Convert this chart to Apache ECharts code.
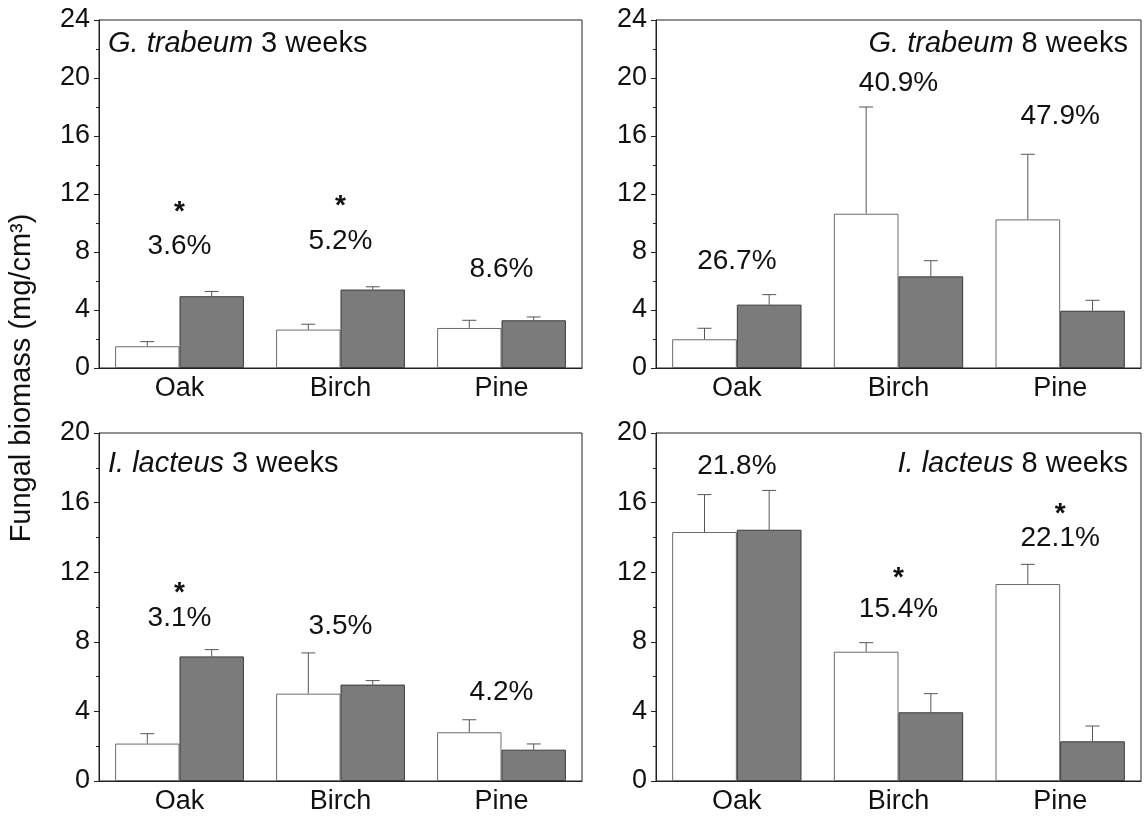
<!DOCTYPE html>
<html>
<head>
<meta charset="utf-8">
<title>Fungal biomass</title>
<script src="https://cdn.jsdelivr.net/npm/echarts@6/dist/echarts.min.js"></script>
<style>
  html, body { margin: 0; padding: 0; background: #fff; }
  #chart { width: 1144px; height: 818px; }
</style>
</head>
<body>
<div id="chart"></div>
<script>
// Wood species on the x axis of every panel
const categories = ['Oak', 'Birch', 'Pine'];

// G. trabeum, 3 weeks (mg/cm3): open bars, shaded bars, upper error
const gt3Open = [1.50, 2.65, 2.76];
const gt3OpenErr = [0.32, 0.37, 0.53];
const gt3Shaded = [4.95, 5.41, 3.29];
const gt3ShadedErr = [0.33, 0.19, 0.23];
const gt3Pct = ['3.6%', '5.2%', '8.6%'];
const gt3PctAt = [8.37, 8.71, 6.8];
const gt3StarAt = [11.1, 11.47, null];

// G. trabeum, 8 weeks
const gt8Open = [1.98, 10.64, 10.25];
const gt8OpenErr = [0.76, 7.36, 4.49];
const gt8Shaded = [4.37, 6.32, 3.95];
const gt8ShadedErr = [0.69, 1.08, 0.72];
const gt8Pct = ['26.7%', '40.9%', '47.9%'];
const gt8PctAt = [7.33, 19.63, 17.33];
const gt8StarAt = [null, null, null];

// I. lacteus, 3 weeks
const il3Open = [2.15, 5.02, 2.80];
const il3OpenErr = [0.57, 2.34, 0.72];
const il3Shaded = [7.16, 5.54, 1.80];
const il3ShadedErr = [0.39, 0.23, 0.33];
const il3Pct = ['3.1%', '3.5%', '4.2%'];
const il3PctAt = [9.35, 8.9, 5.1];
const il3StarAt = [11.07, null, null];

// I. lacteus, 8 weeks
const il8Open = [14.31, 7.43, 11.32];
const il8OpenErr = [2.15, 0.52, 1.13];
const il8Shaded = [14.44, 3.95, 2.28];
const il8ShadedErr = [2.26, 1.07, 0.88];
const il8Pct = ['21.8%', '15.4%', '22.1%'];
const il8PctAt = [18.06, 9.87, 13.95];
const il8StarAt = [null, 11.94, 15.61];

// Y axis ranges and ticks
const topMax = 24;
const bottomMax = 20;
const yStep = 4;

const FONT = 'Liberation Sans, Arial, Helvetica, sans-serif';
const FS = 27;
const FS_NOTE = 28;
const FS_TITLE = 29;
const INK = '#111';

const panels = [
  { grid: { left: 99, top: 20, width: 483, height: 348 }, max: topMax,
    species: 'G. trabeum', time: ' 3 weeks', titlePos: { left: 108, top: 29 },
    open: gt3Open, openErr: gt3OpenErr, shaded: gt3Shaded, shadedErr: gt3ShadedErr,
    pct: gt3Pct, pctAt: gt3PctAt, starAt: gt3StarAt },
  { grid: { left: 656, top: 20, width: 485, height: 348 }, max: topMax,
    species: 'G. trabeum', time: ' 8 weeks', titlePos: { right: 16, top: 29 },
    open: gt8Open, openErr: gt8OpenErr, shaded: gt8Shaded, shadedErr: gt8ShadedErr,
    pct: gt8Pct, pctAt: gt8PctAt, starAt: gt8StarAt },
  { grid: { left: 99, top: 433, width: 483, height: 348 }, max: bottomMax,
    species: 'I. lacteus', time: ' 3 weeks', titlePos: { left: 108, top: 449 },
    open: il3Open, openErr: il3OpenErr, shaded: il3Shaded, shadedErr: il3ShadedErr,
    pct: il3Pct, pctAt: il3PctAt, starAt: il3StarAt },
  { grid: { left: 656, top: 433, width: 485, height: 348 }, max: bottomMax,
    species: 'I. lacteus', time: ' 8 weeks', titlePos: { right: 16, top: 449 },
    open: il8Open, openErr: il8OpenErr, shaded: il8Shaded, shadedErr: il8ShadedErr,
    pct: il8Pct, pctAt: il8PctAt, starAt: il8StarAt }
];

const grids = [], xAxes = [], yAxes = [], series = [], titles = [];

// Upper-only error bar with a short cap, drawn over the centre of one bar of the pair
function errorBarRenderer(side) {
  return function (params, api) {
    const idx = api.value(0);
    const v = api.value(1);
    const e = api.value(2);
    const band = api.size([1, 0])[0];
    const dx = side * band * 0.2;
    const base = api.coord([idx, v]);
    const top = api.coord([idx, v + e]);
    const x = base[0] + dx;
    const half = 7;
    const style = { stroke: '#555555', lineWidth: 1 };
    return {
      type: 'group',
      children: [
        { type: 'line', shape: { x1: x, y1: base[1], x2: x, y2: top[1] }, style: style },
        { type: 'line', shape: { x1: x - half, y1: top[1], x2: x + half, y2: top[1] }, style: style }
      ]
    };
  };
}

// Text annotations placed at (category, height)
function textRenderer(texts, dy, weight) {
  return function (params, api) {
    const p = api.coord([api.value(0), api.value(1)]);
    return {
      type: 'text',
      x: p[0],
      y: p[1] + dy,
      style: {
        text: texts[params.dataIndex],
        fill: INK,
        font: weight + ' ' + FS_NOTE + 'px ' + FONT,
        align: 'center',
        verticalAlign: 'middle'
      }
    };
  };
}

panels.forEach((p, i) => {
  grids.push(Object.assign({ show: true, borderColor: '#222', borderWidth: 1, backgroundColor: 'transparent' }, p.grid));

  // main category axis: labels and ticks at the category centres
  xAxes.push({
    type: 'category', gridIndex: i, position: 'bottom', data: categories,
    axisLine: { lineStyle: { color: '#222', width: 1 } },
    axisTick: { alignWithLabel: true, length: 5, lineStyle: { color: '#222' } },
    axisLabel: { color: INK, fontSize: FS, fontFamily: FONT, margin: 7 },
    splitLine: { show: false }
  });
  // companion axis: short ticks on the category boundaries only
  xAxes.push({
    type: 'category', gridIndex: i, position: 'bottom', data: categories,
    axisLine: { show: false },
    axisTick: { length: 3, lineStyle: { color: '#222' } },
    axisLabel: { show: false },
    splitLine: { show: false }
  });

  yAxes.push({
    type: 'value', gridIndex: i, min: 0, max: p.max, interval: yStep,
    axisLine: { show: true, lineStyle: { color: '#222', width: 1 } },
    axisTick: { show: true, length: 5, lineStyle: { color: '#222' } },
    minorTick: { show: true, splitNumber: 2, length: 3, lineStyle: { color: '#222' } },
    axisLabel: { color: INK, fontSize: FS, fontFamily: FONT, margin: 9 },
    splitLine: { show: false },
    minorSplitLine: { show: false }
  });

  const xi = i * 2;
  series.push({
    type: 'bar', xAxisIndex: xi, yAxisIndex: i, data: p.open,
    barGap: '0%', barCategoryGap: '20%',
    itemStyle: { color: '#ffffff', borderColor: '#6a6a6a', borderWidth: 1 },
    silent: true, animation: false
  });
  series.push({
    type: 'bar', xAxisIndex: xi, yAxisIndex: i, data: p.shaded,
    barGap: '0%', barCategoryGap: '20%',
    itemStyle: { color: '#7b7b7b', borderColor: '#3a3a3a', borderWidth: 1 },
    silent: true, animation: false
  });
  series.push({
    type: 'custom', xAxisIndex: xi, yAxisIndex: i, z: 5,
    renderItem: errorBarRenderer(-1),
    data: p.open.map((v, k) => [k, v, p.openErr[k]]),
    silent: true, animation: false
  });
  series.push({
    type: 'custom', xAxisIndex: xi, yAxisIndex: i, z: 5,
    renderItem: errorBarRenderer(1),
    data: p.shaded.map((v, k) => [k, v, p.shadedErr[k]]),
    silent: true, animation: false
  });
  series.push({
    type: 'custom', xAxisIndex: xi, yAxisIndex: i, z: 6,
    renderItem: textRenderer(p.pct, 0, 'normal'),
    data: p.pctAt.map((h, k) => [k, h]),
    silent: true, animation: false
  });
  const starIdx = [], starTexts = [];
  p.starAt.forEach((h, k) => { if (h !== null) { starIdx.push([k, h]); starTexts.push('*'); } });
  if (starIdx.length) {
    series.push({
      type: 'custom', xAxisIndex: xi, yAxisIndex: i, z: 6,
      renderItem: textRenderer(starTexts, 5, 'bold'),
      data: starIdx,
      silent: true, animation: false
    });
  }

  titles.push(Object.assign({
    text: '{i|' + p.species + '}' + p.time,
    textStyle: {
      color: INK, fontSize: FS_TITLE, fontFamily: FONT, fontWeight: 'normal',
      rich: { i: { fontStyle: 'italic', color: INK, fontSize: FS_TITLE, fontFamily: FONT } }
    },
    padding: 0
  }, p.titlePos));
});

const chart = echarts.init(document.getElementById('chart'), null, { renderer: 'canvas' });
chart.setOption({
  backgroundColor: '#ffffff',
  animation: false,
  title: titles,
  grid: grids,
  xAxis: xAxes,
  yAxis: yAxes,
  series: series,
  graphic: [{
    type: 'text',
    x: 22, y: 378,
    rotation: Math.PI / 2,
    style: {
      text: 'Fungal biomass (mg/cm³)',
      fill: INK,
      font: FS_TITLE + 'px ' + FONT,
      align: 'center',
      verticalAlign: 'middle'
    }
  }]
});
</script>
</body>
</html>
